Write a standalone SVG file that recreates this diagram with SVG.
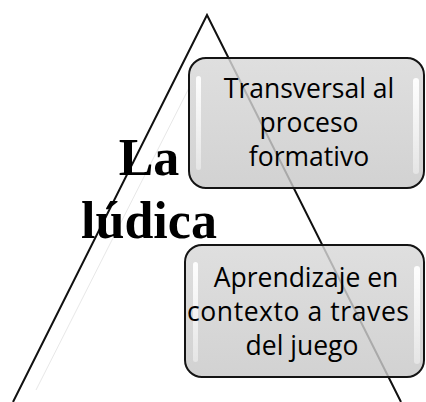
<svg xmlns="http://www.w3.org/2000/svg" width="426" height="402" viewBox="0 0 426 402">
<style>
.box{stroke:#141414;stroke-width:2;fill:url(#gFill);fill-opacity:0.82}
.hl{fill:url(#gHl)}
.bt{font-family:"Open Sans","Liberation Sans",sans-serif;font-size:26.5px;fill:#000;text-anchor:middle}
.tt{font-family:"Liberation Serif","Times New Roman",serif;font-size:52px;font-weight:bold;fill:#000;text-anchor:middle}
.side{stroke:#111;stroke-width:2;fill:none}
</style>
<defs>
<linearGradient id="gFill" x1="0" y1="0" x2="0" y2="1">
<stop offset="0" stop-color="#d8d8d8"/>
<stop offset="1" stop-color="#c8c8c8"/>
</linearGradient>
<linearGradient id="gHl" x1="0" y1="0" x2="0" y2="1">
<stop offset="0" stop-color="#ffffff" stop-opacity="0.95"/>
<stop offset="1" stop-color="#ffffff" stop-opacity="0.4"/>
</linearGradient>
</defs>
<g id="connectors">
<line x1="190" y1="86" x2="36" y2="390" stroke="#e8e8e8" stroke-width="1"/>
<polyline class="side" points="13,402 207,15 401,402"/>
</g>
<g id="title">
<text class="tt" x="149" y="175">La</text>
<text class="tt" x="149" y="238">lúdica</text>
</g>
<g id="box1">
<rect class="box" x="189" y="58" width="235" height="130" rx="17"/>
<rect class="hl" x="196" y="76" width="5" height="94" rx="2.5"/>
<rect class="hl" x="413" y="78" width="6" height="96" rx="3"/>
<text class="bt" x="309" y="98">Transversal al</text>
<text class="bt" x="309" y="132">proceso</text>
<text class="bt" x="309" y="166">formativo</text>
</g>
<g id="box2">
<rect class="box" x="185" y="245" width="239" height="132" rx="17"/>
<rect class="hl" x="193" y="262" width="5" height="100" rx="2.5"/>
<rect class="hl" x="414" y="266" width="6" height="98" rx="3"/>
<text class="bt" x="306" y="287">Aprendizaje en</text>
<text class="bt" x="298" y="321" textLength="222" lengthAdjust="spacing">contexto a traves</text>
<text class="bt" x="302" y="355">del juego</text>
</g>
</svg>
